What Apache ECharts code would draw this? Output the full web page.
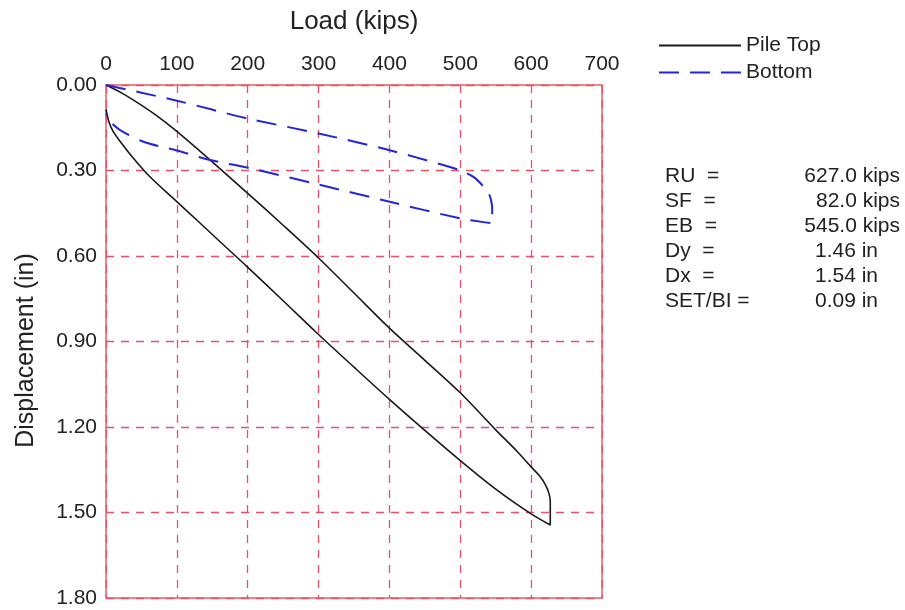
<!DOCTYPE html>
<html>
<head>
<meta charset="utf-8">
<script src="https://cdn.jsdelivr.net/npm/echarts@6/dist/echarts.min.js"></script>
<style>html,body{margin:0;padding:0;background:#fff}#c{width:905px;height:610px}</style>
</head>
<body>
<div id="c"></div>
<script>
// Load ticks and displacement ticks
const xTicks = [0, 100, 200, 300, 400, 500, 600, 700];
const yTicks = [0.00, 0.30, 0.60, 0.90, 1.20, 1.50, 1.80];

// Pile Top (load kips, displacement in) - loading then unloading
const pileTopLoad = [0, 20, 40, 70, 100, 150, 200, 250, 300, 350, 400, 450, 500, 550, 580, 600, 612, 620, 625, 627, 627,
  600, 550, 500, 450, 400, 350, 298, 250, 199, 161, 130, 95, 62, 39, 20, 10, 4, 0];
const pileTopDisp = [0, 0.025, 0.055, 0.105, 0.163, 0.27, 0.38, 0.492, 0.607, 0.73, 0.853, 0.966, 1.08, 1.21, 1.285, 1.34, 1.372, 1.402, 1.432, 1.46, 1.544,
  1.505, 1.418, 1.318, 1.212, 1.103, 0.99, 0.871, 0.757, 0.637, 0.55, 0.478, 0.398, 0.322, 0.258, 0.198, 0.163, 0.128, 0.085];

// Bottom
const bottomLoad = [0, 50, 100, 199, 300, 399, 476, 500, 520, 533, 540, 543, 545, 545, 535,
  500, 399, 300, 203, 147, 100, 53, 20, 6, 0];
const bottomDisp = [0, 0.027, 0.055, 0.117, 0.17, 0.228, 0.281, 0.30, 0.325, 0.357, 0.38, 0.40, 0.43, 0.485, 0.482,
  0.468, 0.409, 0.349, 0.292, 0.263, 0.23, 0.199, 0.158, 0.128, 0.10];

const statLabels = ['RU  =', 'SF  =', 'EB  =', 'Dy  =', 'Dx  =', 'SET/BI ='];
const statValues = ['627.0 kips', '82.0 kips', '545.0 kips', '1.46 in', '1.54 in', '0.09 in'];
const statRight = [900, 900, 900, 878, 878, 878];

const pair = (xs, ys) => xs.map((x, i) => [x, ys[i]]);
const FONT = '"Liberation Sans", Arial, sans-serif';
const GRIDC = '#e8506a';

const graphics = [];
statLabels.forEach((t, i) => {
  graphics.push({type: 'text', left: 665, top: 166 + i * 25,
    style: {text: t, font: '21px ' + FONT, fill: '#222'}});
  graphics.push({type: 'text', right: 905 - statRight[i], top: 166 + i * 25,
    style: {text: statValues[i], font: '21px ' + FONT, fill: '#222'}});
});

const chart = echarts.init(document.getElementById('c'));
chart.setOption({
  animation: false,
  backgroundColor: '#fff',
  textStyle: {fontFamily: FONT},
  grid: {left: 106, top: 85, width: 496, height: 513, show: true, borderColor: '#f05a5a', borderWidth: 1.5, backgroundColor: 'transparent'},
  legend: {
    orient: 'vertical', left: 653, top: 30, itemWidth: 82, itemHeight: 22, itemGap: 6,
    itemStyle: {opacity: 0},
    textStyle: {fontSize: 21, color: '#222', fontFamily: FONT},
    data: ['Pile Top', 'Bottom']
  },
  xAxis: {
    type: 'value', position: 'top', min: 0, max: 700, interval: 100,
    name: 'Load (kips)', nameLocation: 'middle', nameGap: 50,
    nameTextStyle: {fontSize: 26, color: '#222', fontFamily: FONT},
    axisLine: {show: false}, axisTick: {show: false},
    axisLabel: {fontSize: 21, color: '#222', margin: 10, fontFamily: FONT,
      formatter: v => xTicks.includes(v) ? String(v) : ''},
    splitLine: {show: true, lineStyle: {color: GRIDC, type: [8, 7], width: 1.3}}
  },
  yAxis: {
    type: 'value', inverse: true, min: 0, max: 1.8, interval: 0.3,
    name: 'Displacement (in)', nameLocation: 'middle', nameGap: 67, nameRotate: 90,
    nameTextStyle: {fontSize: 25, color: '#222', fontFamily: FONT, padding: [0, 18, 0, 0]},
    axisLine: {show: false}, axisTick: {show: false},
    axisLabel: {fontSize: 21, color: '#222', margin: 9, fontFamily: FONT,
      formatter: v => yTicks.some(t => Math.abs(t - v) < 1e-6) ? v.toFixed(2) : ''},
    splitLine: {show: true, lineStyle: {color: GRIDC, type: [8, 7], width: 1.3}}
  },
  graphic: graphics,
  series: [
    {name: 'Pile Top', type: 'line', data: pair(pileTopLoad, pileTopDisp), symbol: 'none', smooth: 0.3,
      lineStyle: {color: '#1a1a1a', width: 1.6}, itemStyle: {color: '#1a1a1a'}},
    {name: 'Bottom', type: 'line', data: pair(bottomLoad, bottomDisp), symbol: 'none', smooth: 0.3,
      lineStyle: {color: '#2424d8', width: 2, type: [20, 11]}, itemStyle: {color: '#2424d8'}}
  ]
});
</script>
</body>
</html>
